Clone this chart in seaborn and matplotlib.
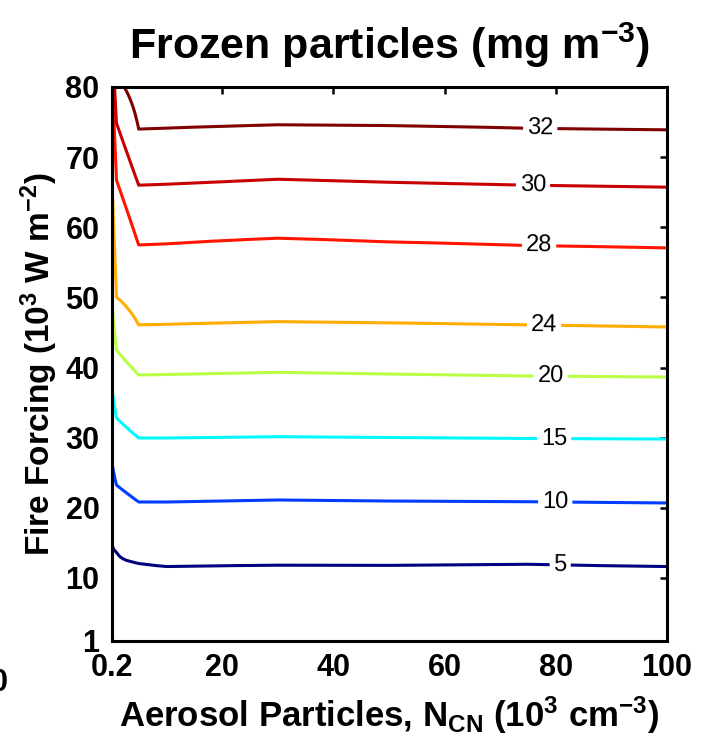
import numpy as np
import matplotlib
matplotlib.use("Agg")
import matplotlib.pyplot as plt
from matplotlib.colors import LinearSegmentedColormap
import seaborn as sns

# ---- data ----
levels = [5, 10, 15, 20, 24, 28, 30, 32]
x_nodes = [0.2, 1, 5, 10, 30, 50, 75, 100]          # aerosol particles (10^3 cm^-3)
# y position (fire forcing) of each contour level at each x node
y_level5  = [14.97, 13.69, 12.12, 11.69, 11.88, 11.84, 11.98, 11.69]
y_level10 = [26.38, 23.24, 20.82, 20.82, 21.11, 20.96, 20.86, 20.68]
y_level15 = [36.79, 32.80, 29.95, 29.95, 30.13, 30.02, 29.88, 29.80]
y_level20 = [49.62, 42.49, 38.93, 39.00, 39.31, 39.07, 38.79, 38.64]
y_level24 = [66.73, 50.05, 46.06, 46.13, 46.53, 46.34, 46.06, 45.77]
y_level28 = [80.60, 66.73, 57.47, 57.61, 58.42, 57.89, 57.37, 57.04]
y_level30 = [88.00, 74.86, 66.00, 66.14, 66.85, 66.42, 66.00, 65.72]
y_level32 = [95.00, 81.50, 74.00, 74.10, 74.58, 74.50, 74.08, 73.86]
# anchors outside the plotted domain
z_low, y_low = 0, -20
z_high, y_high = 40, 130

x_ticks = [0.2, 20, 40, 60, 80, 100]
x_ticklabels = ["0.2", "20", "40", "60", "80", "100"]
y_ticks = [1, 10, 20, 30, 40, 50, 60, 70, 80]
y_ticklabels = ["1", "10", "20", "30", "40", "50", "60", "70", "80"]

# ---- build the gridded field from the level positions ----
level_rows = [y_level5, y_level10, y_level15, y_level20,
              y_level24, y_level28, y_level30, y_level32]
y_grid = np.linspace(1, 80, 317)
zcols = []
for j in range(len(x_nodes)):
    pos = [y_low] + [row[j] for row in level_rows] + [y_high]
    val = [z_low] + levels + [z_high]
    zcols.append(np.interp(y_grid, pos, val))
Z = np.array(zcols).T
X, Y = np.meshgrid(x_nodes, y_grid)

# ---- style ----
sns.set_theme(style="white")
plt.rcParams["font.family"] = ["Liberation Sans", "DejaVu Sans"]
plt.rcParams["mathtext.fontset"] = "custom"
plt.rcParams["mathtext.rm"] = "Liberation Sans:bold"
plt.rcParams["mathtext.it"] = "Liberation Sans:bold"
plt.rcParams["mathtext.bf"] = "Liberation Sans:bold"
plt.rcParams["mathtext.default"] = "rm"
for key in ["text.color", "axes.labelcolor", "xtick.color", "ytick.color",
            "axes.edgecolor"]:
    plt.rcParams[key] = "black"

fig = plt.figure(figsize=(7.17, 7.5), dpi=100)
ax = fig.add_axes([112 / 717, 1 - 641 / 750, 555 / 717, 554 / 750])

# MATLAB-style jet
cmap = LinearSegmentedColormap.from_list(
    "mjet",
    [(0.0, (0, 0, 0.5)), (0.125, (0, 0, 1)), (0.375, (0, 1, 1)),
     (0.625, (1, 1, 0)), (0.875, (1, 0, 0)), (1.0, (0.5, 0, 0))])
cs = ax.contour(X, Y, Z, levels=levels, cmap=cmap, vmin=5, vmax=32,
                linewidths=2.2)

label_pts = [(80.8, 11.8), (79.9, 20.8), (79.7, 29.9), (79.1, 38.8),
             (77.9, 46.1), (77.0, 57.4), (75.9, 66.0), (77.2, 74.1)]
ax.clabel(cs, levels=levels, inline=True, inline_spacing=4, fontsize=17,
          colors="black", fmt="%d", manual=label_pts)

ax.set_xlim(0.2, 100)
ax.set_ylim(1, 80)
ax.set_xticks(x_ticks)
ax.set_xticklabels(x_ticklabels)
ax.set_yticks(y_ticks)
ax.set_yticklabels(y_ticklabels)
ax.tick_params(direction="in", length=5, width=1.8, top=True, right=True,
               labelsize=22, pad=9, colors="black")
for lab in ax.get_xticklabels() + ax.get_yticklabels():
    lab.set_fontweight("bold")
for sp in ax.spines.values():
    sp.set_linewidth(2.2)
    sp.set_color("black")

ax.set_xlabel(r"Aerosol Particles, N$_{\rm CN}$ (10$^3$ cm$^{-3}$)",
              fontsize=25, fontweight="bold", labelpad=8)
ax.set_ylabel(r"Fire Forcing (10$^3$ W m$^{-2}$)",
              fontsize=24, fontweight="bold", labelpad=4)
fig.text(0.5 * (112 + 667) / 717, 1 - 45 / 750,
         r"Frozen particles (mg m$^{-3}$)", fontsize=31, fontweight="bold",
         ha="center", va="center")
# clipped tick label at far left edge
fig.text(8 / 717, 1 - 683 / 750, "0", fontsize=22, fontweight="bold",
         ha="right", va="center")

fig.savefig("out.png", dpi=100, facecolor="white")
